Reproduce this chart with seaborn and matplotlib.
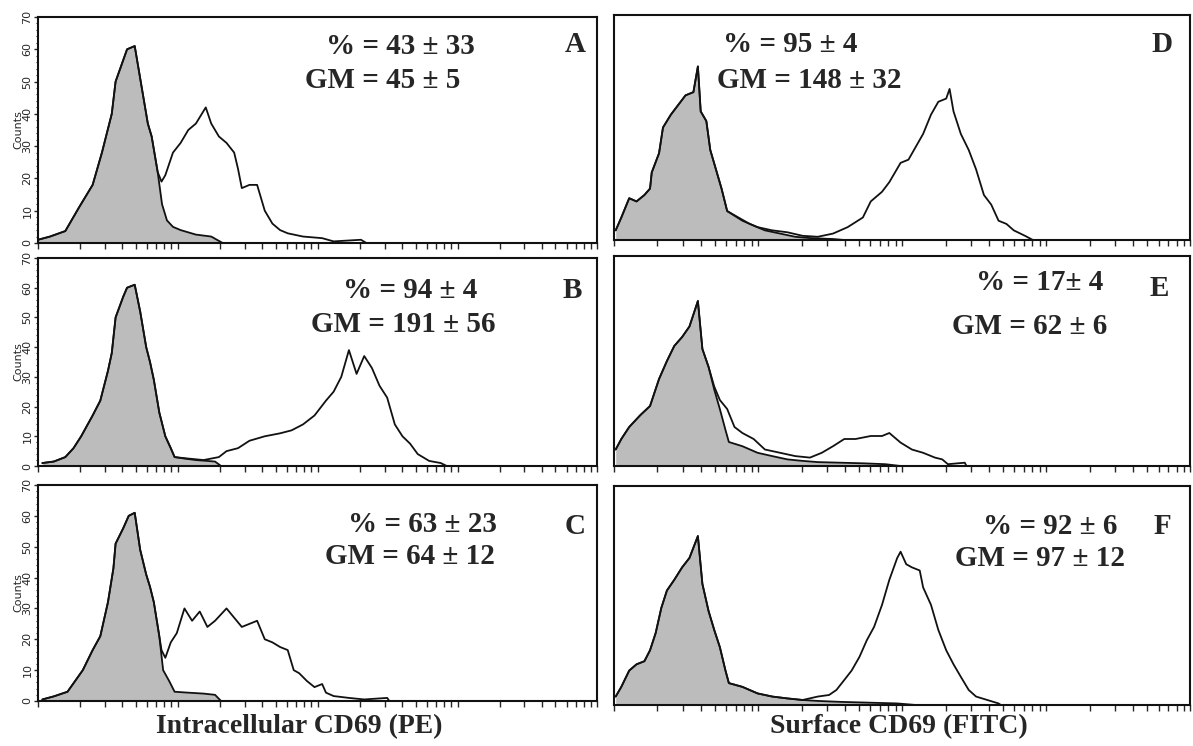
import numpy as np
import seaborn as sns
import matplotlib.pyplot as plt

sns.set_style('white')
plt.rcParams['font.family'] = ['DejaVu Sans']

# channel (0-1023, 4-decade log scale) and counts
a_gray_ch = [0, 22, 50, 75, 100, 117, 135, 142, 163, 177, 187, 201, 208, 219, 227, 236, 247, 261, 289, 317, 338]
a_gray_n = [1, 2, 3.7, 11, 18, 28, 40, 50, 60, 61, 51, 37, 33, 22, 12, 7, 5, 4, 2.6, 2, 0]
a_open_ch = a_gray_ch[:14] + [226, 233, 247, 261, 275, 289, 307, 317, 331, 345, 359, 366, 373, 387, 401, 408,
                              415, 429, 443, 457, 485, 520, 541, 591, 601]
a_open_n = a_gray_n[:14] + [19, 21, 28, 31, 35, 37, 42, 37, 33, 31, 28, 23, 17, 18, 18, 14,
                            10, 6, 4, 3, 2, 1.5, 0.5, 1, 0]

b_gray_ch = [8, 29, 50, 65, 79, 100, 114, 128, 135, 142, 156, 163, 177, 187, 198, 205, 212, 222, 233, 243, 250, 268, 289, 324, 335]
b_gray_n = [1, 1.5, 3, 6, 10, 17, 22, 32, 38, 50, 57, 60, 61, 52, 40, 35, 29, 18, 10, 6, 3, 2.5, 2, 1.5, 0]
b_open_ch = b_gray_ch[:20] + [250, 275, 303, 331, 345, 366, 387, 415, 443, 464, 485, 506, 527, 541, 555, 569,
                              583, 597, 611, 625, 639, 653, 667, 681, 695, 716, 737, 748]
b_open_n = b_gray_n[:20] + [3, 2.5, 2, 3, 5, 6, 8.5, 10, 11, 12, 14, 17, 22, 25, 30, 39,
                            31, 37, 33, 27, 23, 14, 10, 7.5, 4, 1.7, 1, 0]

c_gray_ch = [8, 29, 54, 68, 82, 100, 114, 128, 138, 142, 156, 166, 177, 187, 198, 205, 212, 222, 229, 240, 250, 275, 303, 324, 335]
c_gray_n = [0.5, 1.5, 3, 6.5, 10, 16.5, 21, 32, 43, 51, 56, 60, 61, 49, 41, 37, 32, 21, 10, 6.5, 3, 2.7, 2.4, 2, 0]
c_open_ch = c_gray_ch[:18] + [226, 233, 243, 254, 268, 282, 296, 310, 324, 345, 359, 373, 387, 401, 415, 429,
                              443, 457, 468, 478, 492, 506, 520, 527, 541, 569, 597, 639, 643]
c_open_n = c_gray_n[:18] + [16.5, 14, 19, 22, 30, 26, 29, 24, 26, 30, 27, 24, 25, 26, 20, 19,
                            17.5, 16.5, 10, 9, 6.5, 4.5, 5.5, 2.7, 1.6, 1, 0.5, 1, 0]

d_gray_ch = [3, 13, 27, 40, 54, 64, 67, 80, 87, 101, 114, 127, 141, 149, 154, 164, 171, 181, 191, 201,
             221, 241, 268, 295, 322, 348, 389, 409]
d_gray_n = [3, 7, 13, 12, 14, 16, 21, 27, 35, 39, 42, 45, 46, 54, 40, 37, 28, 22, 16, 9,
            7, 5, 3, 2, 1, 0.6, 0.3, 0]
d_open_ch = d_gray_ch[:20] + [228, 255, 281, 308, 335, 362, 389, 415, 442, 456, 476, 489, 509, 523, 536, 549,
                              563, 576, 590, 596, 603, 616, 630, 643, 657, 670, 683, 697, 710, 730, 744]
d_open_n = d_gray_n[:20] + [6, 4, 3, 2.4, 1.3, 1, 2, 4, 7, 12, 15, 18, 24, 25, 29, 33,
                            39, 43, 44, 47, 40, 33, 28, 22, 14, 11, 6, 5, 3, 1.3, 0]

e_gray_ch = [3, 13, 27, 47, 64, 80, 94, 107, 121, 134, 149, 157, 168, 178, 188, 198, 204, 228, 255, 281,
             308, 335, 362, 402, 442, 482, 509]
e_gray_n = [5.5, 9, 13, 17, 20, 29, 35, 40, 43, 46.5, 55, 39, 33, 25.5, 19, 12, 8, 6.6, 4.4, 3.3,
            2.2, 1.7, 1.3, 1.1, 0.9, 0.6, 0]
e_open_ch = e_gray_ch[:13] + [178, 188, 201, 214, 228, 248, 268, 295, 322, 348, 369, 389, 409, 429, 456, 476,
                              489, 509, 529, 549, 570, 583, 593, 623, 626]
e_open_n = e_gray_n[:13] + [26.5, 22, 19, 13, 11, 9, 5.5, 4.4, 3.3, 2.8, 4.4, 6.6, 9, 9, 10, 10,
                            11, 7.8, 5.5, 4.4, 2.8, 2.2, 0.6, 1.1, 0]

f_gray_ch = [3, 13, 27, 40, 54, 64, 74, 84, 94, 107, 121, 134, 149, 157, 168, 178, 188, 198, 204, 228,
             255, 281, 308, 335, 362, 402, 442, 503, 536]
f_gray_n = [2.7, 5.8, 11, 13, 14, 17.5, 23, 31, 36.6, 40, 44, 47, 54, 38.7, 30, 24, 18.5, 11, 7, 5.8,
            3.7, 2.7, 2.1, 1.6, 1.3, 1, 0.8, 0.5, 0]
f_open_ch = f_gray_ch[:24] + [362, 382, 395, 409, 422, 436, 449, 462, 476, 489, 503, 509, 519, 529, 543, 549,
                              563, 576, 590, 603, 616, 630, 643, 663, 683, 687]
f_open_n = f_gray_n[:24] + [2.7, 3.2, 4.8, 8, 11, 15.4, 20.7, 25, 32, 40, 47, 49, 45, 44, 43, 37.6,
                            32, 24, 17.5, 13, 9, 4.8, 2.7, 1.6, 0.5, 0]

pct_labels = ['% = 43 ± 33', '% = 94 ± 4', '% = 63 ± 23', '% = 95 ± 4', '% = 17± 4', '% = 92 ± 6']
gm_labels = ['GM = 45 ± 5', 'GM = 191 ± 56', 'GM = 64 ± 12', 'GM = 148 ± 32', 'GM = 62 ± 6', 'GM = 97 ± 12']
panel_letters = ['A', 'B', 'C', 'D', 'E', 'F']
y_ticks = [0, 10, 20, 30, 40, 50, 60, 70]
x_titles = ['Intracellular CD69 (PE)', 'Surface CD69 (FITC)']

W, H = 1193, 746
fig = plt.figure(figsize=(W / 100, H / 100), dpi=100)

def px_box(x0, x1, y0, y1):
    return [x0 / W, 1 - y1 / H, (x1 - x0) / W, (y1 - y0) / H]

boxes = [px_box(38, 597, 17, 243), px_box(38, 597, 258, 466), px_box(38, 597, 485, 701),
         px_box(614, 1190, 15, 240), px_box(614, 1190, 256, 466), px_box(614, 1190, 486, 705)]
curves = [(a_gray_ch, a_gray_n, a_open_ch, a_open_n), (b_gray_ch, b_gray_n, b_open_ch, b_open_n),
          (c_gray_ch, c_gray_n, c_open_ch, c_open_n), (d_gray_ch, d_gray_n, d_open_ch, d_open_n),
          (e_gray_ch, e_gray_n, e_open_ch, e_open_n), (f_gray_ch, f_gray_n, f_open_ch, f_open_n)]
# text anchors in pixels: (pct centre, gm centre, letter centre)
text_pos = [((400, 47), (383, 80), (575, 45)), ((410, 291), (403, 325), (572, 290)),
            ((422, 525), (410, 557), (575, 526)), ((790, 45), (809, 80), (1162, 45)),
            ((1040, 283), (1030, 327), (1159, 288)), ((1050, 526), (1040, 559), (1162, 526))]

serif = dict(family='Liberation Serif', weight='bold')
log_ticks = [256 * np.log10(m * 10 ** d) for d in range(4) for m in range(1, 10)] + [1023]

for i, (box, (gch, gn, och, on)) in enumerate(zip(boxes, curves)):
    ax = fig.add_axes(box)
    ax.fill_between(gch, gn, color='#bcbcbc', lw=0)
    sns.lineplot(x=gch, y=gn, ax=ax, color='#111111', linewidth=1.3, sort=False, estimator=None)
    sns.lineplot(x=och, y=on, ax=ax, color='#111111', linewidth=1.3, sort=False, estimator=None)
    ax.set_xlim(0, 1023)
    ax.set_ylim(0, 70)
    ax.set_xticks(log_ticks)
    ax.set_xticklabels([])
    ax.tick_params(axis='x', direction='out', length=4, width=1, bottom=True)
    for s in ax.spines.values():
        s.set_linewidth(1.5)
        s.set_color('#111111')
    if i < 3:
        ax.set_yticks(y_ticks)
        ax.set_yticklabels([str(t) for t in y_ticks], rotation=90, fontsize=8, va='center')
        ax.set_yticks(np.arange(0, 71, 2), minor=True)
        ax.tick_params(axis='y', which='major', direction='out', length=3, width=1, left=True, pad=1)
        ax.tick_params(axis='y', which='minor', direction='out', length=1.8, width=0.8, left=True)
        ax.set_ylabel('Counts', fontsize=8, labelpad=-1)
    else:
        ax.set_yticks([])
        ax.set_ylabel('')
    ax.set_xlabel('')
    (px1, py1), (px2, py2), (px3, py3) = text_pos[i]
    fig.text(px1 / W, 1 - py1 / H, pct_labels[i], ha='center', va='center', fontsize=21, **serif)
    fig.text(px2 / W, 1 - py2 / H, gm_labels[i], ha='center', va='center', fontsize=21, **serif)
    fig.text(px3 / W, 1 - py3 / H, panel_letters[i], ha='center', va='center', fontsize=21, **serif)

fig.text(299 / W, 1 - 727 / H, x_titles[0], ha='center', va='center', fontsize=20, **serif)
fig.text(899 / W, 1 - 727 / H, x_titles[1], ha='center', va='center', fontsize=20, **serif)

fig.savefig('out.png', dpi=100)
